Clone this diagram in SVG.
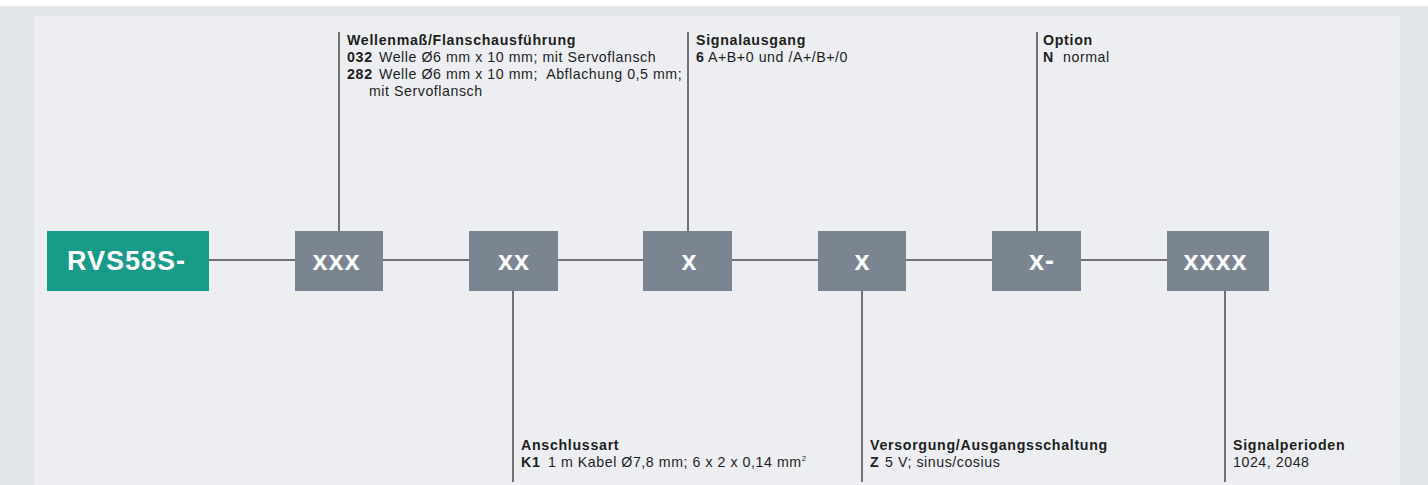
<svg xmlns="http://www.w3.org/2000/svg" width="1428" height="485" viewBox="0 0 1428 485">
<style>
.t{font-family:"Liberation Sans",Arial,sans-serif;font-size:14.2px;fill:#1e1e1e;letter-spacing:0.55px}
.b{font-weight:bold;letter-spacing:0.7px}
.bx{fill:#7b8491}
.bt{font-family:"Liberation Sans",Arial,sans-serif;font-weight:bold;font-size:27px;fill:#ffffff;letter-spacing:1px;text-anchor:middle}
.ln{stroke:#4a4a4a;stroke-width:1.5;fill:none}
</style>
<rect x="0" y="0" width="1428" height="485" fill="#ffffff"/>
<rect x="0" y="6" width="1428" height="479" fill="#e3e6e9"/>
<rect x="34" y="16" width="1366" height="469" fill="#eceef1"/>
<g id="connectors">
<path class="ln" d="M209 260H295M383 260H469M558 260H643M732 260H818M906 260H992M1081 260H1167"/>
<path class="ln" d="M339 32V231M688 32V231M1037 32V231"/>
<path class="ln" d="M513 291V482M862 291V482M1225 291V482"/>
</g>
<g id="n0"><rect x="47" y="231" width="162" height="60" fill="#189b89"/><text class="bt" x="126.5" y="270">RVS58S-</text></g>
<g id="n1"><rect class="bx" x="295" y="231" width="88" height="60"/><text class="bt" x="336.5" y="270">xxx</text></g>
<g id="n2"><rect class="bx" x="469" y="231" width="89" height="60"/><text class="bt" x="514" y="270">xx</text></g>
<g id="n3"><rect class="bx" x="643" y="231" width="89" height="60"/><text class="bt" x="689.5" y="270">x</text></g>
<g id="n4"><rect class="bx" x="818" y="231" width="88" height="60"/><text class="bt" x="862.5" y="270">x</text></g>
<g id="n5"><rect class="bx" x="992" y="231" width="89" height="60"/><text class="bt" x="1042" y="270">x-</text></g>
<g id="n6"><rect class="bx" x="1167" y="231" width="102" height="60"/><text class="bt" x="1215.5" y="270">xxxx</text></g>
<g id="l1">
<text class="t b" x="347" y="45">Wellenmaß/Flanschausführung</text>
<text class="t" x="347" y="62"><tspan class="b">032</tspan><tspan x="379">Welle Ø6 mm x 10 mm; mit Servoflansch</tspan></text>
<text class="t" x="347" y="79"><tspan class="b">282</tspan><tspan x="379">Welle Ø6 mm x 10 mm;&#160; Abflachung 0,5 mm;</tspan></text>
<text class="t" x="369" y="96">mit Servoflansch</text>
</g>
<g id="l3">
<text class="t b" x="696" y="45">Signalausgang</text>
<text class="t" x="696" y="62"><tspan class="b">6</tspan><tspan x="708">A+B+0 und /A+/B+/0</tspan></text>
</g>
<g id="l5">
<text class="t b" x="1043" y="45">Option</text>
<text class="t" x="1043" y="62"><tspan class="b">N</tspan><tspan x="1063">normal</tspan></text>
</g>
<g id="l2">
<text class="t b" x="521" y="450">Anschlussart</text>
<text class="t" x="521" y="467"><tspan class="b">K1</tspan><tspan x="548">1 m Kabel Ø7,8 mm; 6 x 2 x 0,14 mm</tspan><tspan font-size="8" dy="-6">2</tspan></text>
</g>
<g id="l4">
<text class="t b" x="870" y="450">Versorgung/Ausgangsschaltung</text>
<text class="t" x="870" y="467"><tspan class="b">Z</tspan><tspan x="885">5 V; sinus/cosius</tspan></text>
</g>
<g id="l6">
<text class="t b" x="1233" y="450">Signalperioden</text>
<text class="t" x="1233" y="467">1024, 2048</text>
</g>
</svg>
